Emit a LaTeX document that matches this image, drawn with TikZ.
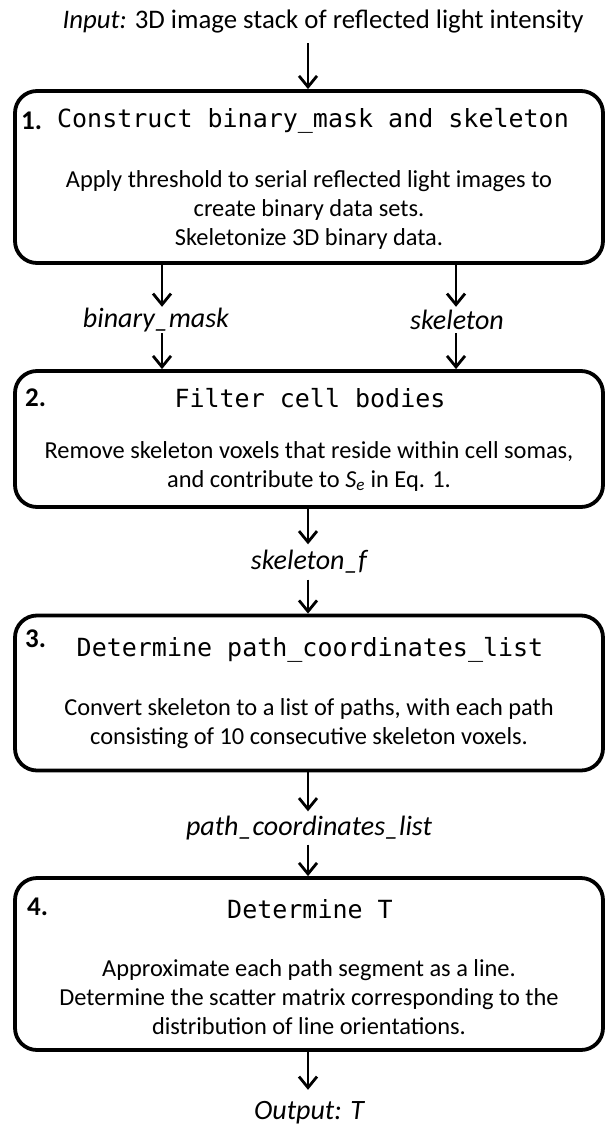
\documentclass[tikz,border=0pt]{standalone}
\usepackage{fontspec}
\setmainfont{Carlito}
\newfontfamily\monofont{DejaVu Sans Mono}
\usetikzlibrary{arrows.meta}
\begin{document}
\begin{tikzpicture}[x=1bp,y=-1bp,
  box/.style={draw, line width=3.8bp, rounded corners=22bp, minimum width=588bp, inner sep=0pt},
  arr/.style={line width=2.8bp, -{Straight Barb[length=11bp,width=18bp]}},
  ttl/.style={font=\monofont\fontsize{25bp}{29bp}\selectfont, inner sep=0pt},
  num/.style={font=\bfseries\fontsize{27bp}{29bp}\selectfont, inner sep=0pt, anchor=west},
  body/.style={font=\fontsize{24.4bp}{29bp}\selectfont, align=center, inner sep=0pt},
  lbl/.style={font=\itshape\fontsize{28bp}{30bp}\selectfont, inner sep=0pt, minimum height=33bp},
]
\useasboundingbox (0,0) rectangle (613,1129);

% input
\node[font=\fontsize{26.8bp}{30bp}\selectfont, inner sep=0pt, minimum height=44bp] (in) at (323,21) {{\itshape Input:} 3D image stack of reflected light intensity};

% box 1
\node[box, minimum height=172bp] (b1) at (309,177) {};
\node[num] (n1) at (21,121) {1.};
\node[ttl] (t1) at (313,121) {Construct binary\_mask and skeleton};
\node[body] (d1) at (309,210) {Apply threshold to serial reflected light images to\\create binary data sets.\\Skeletonize 3D binary data.};

% box 2
\node[box, minimum height=136bp] (b2) at (309,439) {};
\node[num] (n2) at (25,398) {2.};
\node[ttl] (t2) at (310,398) {Filter cell bodies};
\node[body] (d2) at (309,466) {Remove skeleton voxels that reside within cell somas,\\and contribute to {\itshape S}\textsubscript{\itshape e} in Eq. 1.};

% box 3
\node[box, minimum height=155bp] (b3) at (309,693) {};
\node[num] (n3) at (25,639) {3.};
\node[ttl] (t3) at (310,650) {Determine path\_coordinates\_list};
\node[body] (d3) at (309,724) {Convert skeleton to a list of paths, with each path\\consisting of 10 consecutive skeleton voxels.};

% box 4
\node[box, minimum height=172bp] (b4) at (309,964) {};
\node[num] (n4) at (27,907) {4.};
\node[ttl] (t4) at (310,909) {Determine T};
\node[body] (d4) at (309,997) {Approximate each path segment as a line.\\Determine the scatter matrix corresponding to the\\distribution of line orientations.};

% labels
\node[lbl, minimum height=26bp] (lbm) at (156,320) {binary\_mask};
\node[lbl, minimum height=26bp] (lsk) at (457,320) {skeleton};
\node[lbl, minimum height=35bp] (lsf) at (309,562) {skeleton\_f};
\node[lbl, minimum height=33bp] (lpc) at (309,828) {path\_coordinates\_list};
\node[lbl, minimum height=46bp] (out) at (309,1113) {Output: T};

\coordinate (xa) at (162,0);
\coordinate (xb) at (456,0);
\coordinate (xc) at (308,0);

% connectors
\draw[arr] (in.south -| xc) -- (b1.north -| xc);
\draw[arr] (b1.south -| xa) -- (lbm.north -| xa);
\draw[arr] (lbm.south -| xa) -- (b2.north -| xa);
\draw[arr] (b1.south -| xb) -- (lsk.north -| xb);
\draw[arr] (lsk.south -| xb) -- (b2.north -| xb);
\draw[arr] (b2.south -| xc) -- (lsf.north -| xc);
\draw[arr] (lsf.south -| xc) -- (b3.north -| xc);
\draw[arr] (b3.south -| xc) -- (lpc.north -| xc);
\draw[arr] (lpc.south -| xc) -- (b4.north -| xc);
\draw[arr] (b4.south -| xc) -- (out.north -| xc);
\end{tikzpicture}
\end{document}
